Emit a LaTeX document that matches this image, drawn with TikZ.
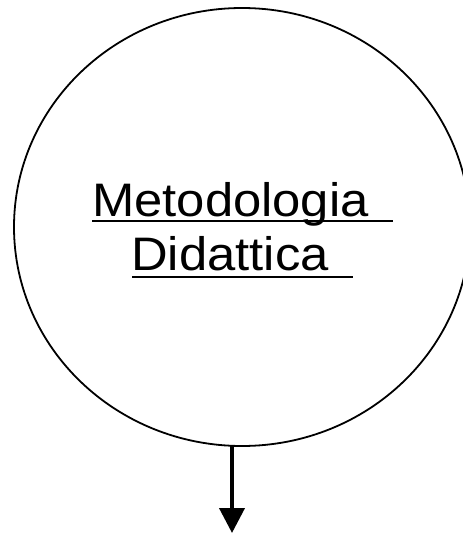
\documentclass[tikz,border=0pt]{standalone}
\usepackage{fontspec}
\setmainfont{Liberation Sans}
\usetikzlibrary{arrows.meta,shapes.geometric}
\tikzset{
  bubble/.style={draw, line width=1.8pt, ellipse, minimum width=456pt, minimum height=438pt, inner sep=0pt},
  label/.style={anchor=base west, inner sep=0pt, xscale=1.08, transform shape, font=\fontsize{47}{56}\selectfont},
  uline/.style={line width=2pt},
  flow/.style={line width=4pt, -{Triangle[length=25pt,width=25pt]}}
}
\begin{document}
\begin{tikzpicture}[x=1pt,y=-1pt]
\useasboundingbox (0,0) rectangle (463,533);
\clip (0,0) rectangle (463,533);
\node[bubble] (c) at (242,227) {};
\node[label] (t1) at (92,216) {Metodologia};
\node[label] (t2) at (131,270) {Didattica};
\coordinate (u1a) at (92,221);
\coordinate (u1b) at (393,221);
\coordinate (u2a) at (132,277);
\coordinate (u2b) at (353,277);
\draw[uline] (u1a) -- (u1b);
\draw[uline] (u2a) -- (u2b);
\coordinate (s) at (232,446);
\coordinate (e) at (232,533);
\draw[flow] (s) -- (e);
\end{tikzpicture}
\end{document}
